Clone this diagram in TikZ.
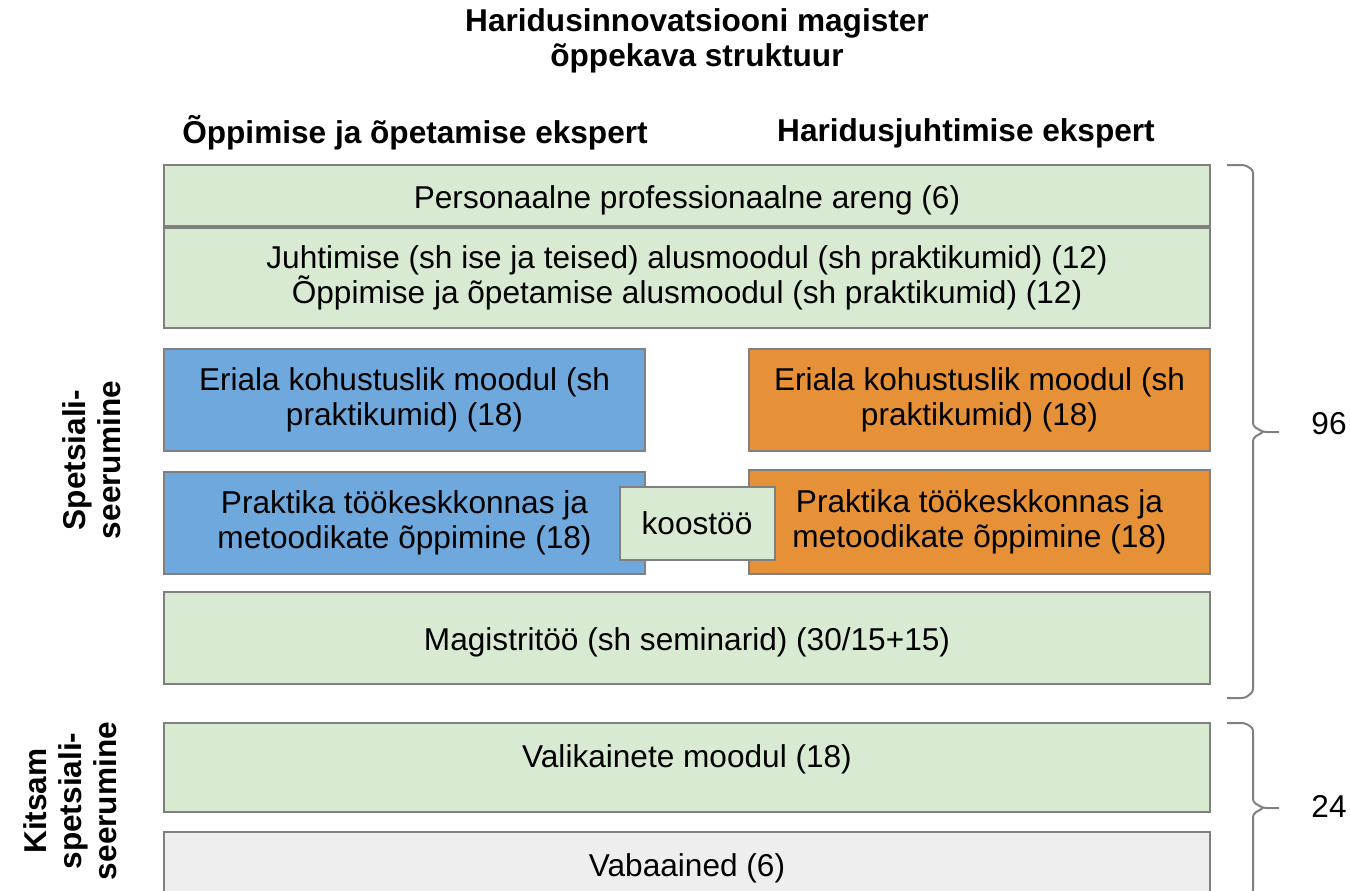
\documentclass[tikz,border=0pt]{standalone}
\usepackage{fontspec}
\setmainfont{Liberation Sans}
\usetikzlibrary{positioning}
\definecolor{palegreen}{HTML}{D9EAD3}
\definecolor{skyblue}{HTML}{6FA8DC}
\definecolor{amber}{HTML}{E69138}
\definecolor{palegrey}{HTML}{EEEEEE}
\definecolor{edgegrey}{HTML}{808080}
\tikzstyle{module} = [rectangle, draw=edgegrey, line width=2pt, inner sep=0pt, text centered, align=center, font=\fontsize{31.6}{35}\selectfont]
\tikzstyle{lowered} = [execute at begin node={\rule{0pt}{32pt}}]
\tikzstyle{common} = [module, lowered, fill=palegreen, minimum width=1046pt]
\tikzstyle{teach} = [module, lowered, fill=skyblue, minimum width=481pt]
\tikzstyle{lead} = [module, lowered, fill=amber, minimum width=461pt]
\tikzstyle{free} = [module, lowered, fill=palegrey, minimum width=1046pt]
\tikzstyle{heading} = [align=center, inner sep=0pt, font=\bfseries\fontsize{31.6}{35}\selectfont]
\tikzstyle{credits} = [inner sep=0pt, font=\fontsize{31.6}{35}\selectfont]
\tikzstyle{brace} = [draw=edgegrey, line width=2pt, rounded corners=3pt]

\begin{document}
\begin{tikzpicture}[x=1pt, y=-1pt]
\useasboundingbox (0,0) rectangle (1350,891);
\clip (0,0) rectangle (1350,891);

% headings
\node (title) [heading] at (697,41) {Haridusinnovatsiooni magister\\õppekava struktuur};
\node (colteach) [heading] at (415,133) {Õppimise ja õpetamise ekspert};
\node (collead) [heading] at (966,133) {Haridusjuhtimise ekspert};
\node (spec) [heading, rotate=90] at (92,460) {Spetsiali-\\seerumine};
\node (narrow) [heading, rotate=90] at (70,801) {Kitsam\\spetsiali-\\seerumine};

% modules
\node (pers) [common, minimum height=61pt] at (687,195.5) {Personaalne professionaalne areng (6)};
\node (base) [common, minimum height=100pt] at (687,278) {Juhtimise (sh ise ja teised) alusmoodul (sh praktikumid) (12)\\Õppimise ja õpetamise alusmoodul (sh praktikumid) (12)};
\node (teach1) [teach, minimum height=102pt] at (404.5,400) {Eriala kohustuslik moodul (sh\\praktikumid) (18)};
\node (lead1) [lead, minimum height=102pt] at (979.5,400) {Eriala kohustuslik moodul (sh\\praktikumid) (18)};
\node (teach2) [teach, minimum height=102pt] at (404.5,523) {Praktika töökeskkonnas ja\\metoodikate õppimine (18)};
\node (lead2) [lead, minimum height=104pt] at (979.5,522) {Praktika töökeskkonnas ja\\metoodikate õppimine (18)};
\node (coop) [module, fill=palegreen, minimum width=155pt, minimum height=73pt] at (697,523.5) {koostöö};
\node (thesis) [common, minimum height=92pt] at (687,638) {Magistritöö (sh seminarid) (30/15+15)};
\node (elect) [common, minimum height=89pt, text depth=32pt] at (687,767) {Valikainete moodul (18)};
\node (optional) [free, minimum height=64pt] at (687,864) {Vabaained (6)};

% braces and credits
\draw [brace] (1227,165) -- (1245,165) -- (1253,170) -- (1253,426) -- (1263,432) -- (1279,432);
\draw [brace] (1263,432) -- (1253,438) -- (1253,692) -- (1245,698) -- (1227,698);
\node (sum96) [credits] at (1329,424) {96};
\draw [brace] (1227,723) -- (1245,723) -- (1253,728) -- (1253,802) -- (1263,808) -- (1279,808);
\draw [brace] (1263,808) -- (1253,814) -- (1253,893) -- (1245,898);
\node (sum24) [credits] at (1329,806) {24};
\end{tikzpicture}
\end{document}
